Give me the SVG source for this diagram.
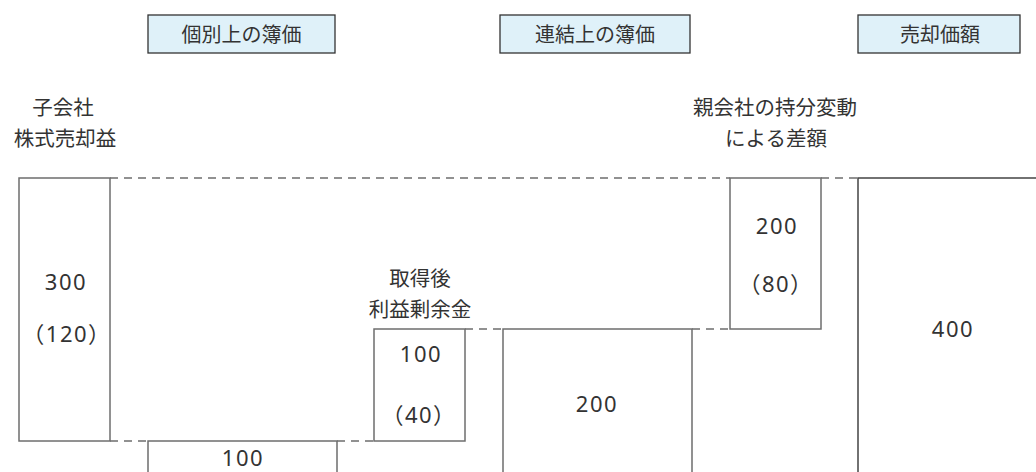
<svg xmlns="http://www.w3.org/2000/svg" width="1036" height="472" viewBox="0 0 1036 472">
<style>
.hdr{fill:#dff1f9;stroke:#333;stroke-width:1.3}
.box{fill:none;stroke:#6e6e6e;stroke-width:1.5}
.dash{fill:none;stroke:#6e6e6e;stroke-width:1.5;stroke-dasharray:8 6}
text{font-family:"Noto Sans CJK JP","Noto Sans",sans-serif;fill:#333;text-anchor:middle}
.h{font-size:20px}
.lbl{font-size:20.5px}
.num{font-size:22px;letter-spacing:1.5px;font-family:"Noto Sans","Noto Sans CJK JP",sans-serif}
</style>
<rect width="1036" height="472" fill="#fff"/>
<g id="hdr-kobetsu"><rect class="hdr" x="148" y="15" width="187" height="38"/><text class="h" x="241.5" y="42">個別上の簿価</text></g>
<g id="hdr-renketsu"><rect class="hdr" x="500" y="15" width="190" height="38"/><text class="h" x="595" y="42">連結上の簿価</text></g>
<g id="hdr-baikyaku"><rect class="hdr" x="858" y="15" width="162" height="38"/><text class="h" x="940" y="42">売却価額</text></g>
<g id="lbl-left"><text class="lbl" x="63" y="115">子会社</text><text class="lbl" x="65" y="146">株式売却益</text></g>
<g id="lbl-mid"><text class="lbl" x="420" y="286">取得後</text><text class="lbl" x="420" y="317">利益剰余金</text></g>
<g id="lbl-right"><text class="lbl" x="775" y="115">親会社の持分変動</text><text class="lbl" x="776" y="146">による差額</text></g>
<g id="box-300"><rect class="box" x="19" y="178" width="91" height="263"/><text class="num" x="66" y="290">300</text><text class="num" x="67" y="342">（120）</text></g>
<g id="box-100-bottom"><path class="box" d="M148 480V441H337V480"/><text class="num" x="243" y="466">100</text></g>
<g id="box-100"><rect class="box" x="374" y="329" width="91" height="112"/><text class="num" x="421" y="362">100</text><text class="num" x="419" y="423">（40）</text></g>
<g id="box-200"><path class="box" d="M503 480V329H692V480"/><text class="num" x="597" y="412">200</text></g>
<g id="box-200-80"><rect class="box" x="730" y="178" width="91" height="151"/><text class="num" x="777" y="234">200</text><text class="num" x="776" y="292">（80）</text></g>
<g id="box-400"><path class="box" d="M858 480V178H1040" style="stroke:#444"/><text class="num" x="953" y="337">400</text></g>
<g id="connectors">
<line class="dash" x1="110" y1="178" x2="730" y2="178"/>
<line class="dash" x1="821" y1="178" x2="858" y2="178"/>
<line class="dash" x1="465" y1="329" x2="503" y2="329"/>
<line class="dash" x1="692" y1="329" x2="730" y2="329"/>
<line class="dash" x1="110" y1="441" x2="148" y2="441"/>
<line class="dash" x1="337" y1="441" x2="374" y2="441"/>
</g>
</svg>
